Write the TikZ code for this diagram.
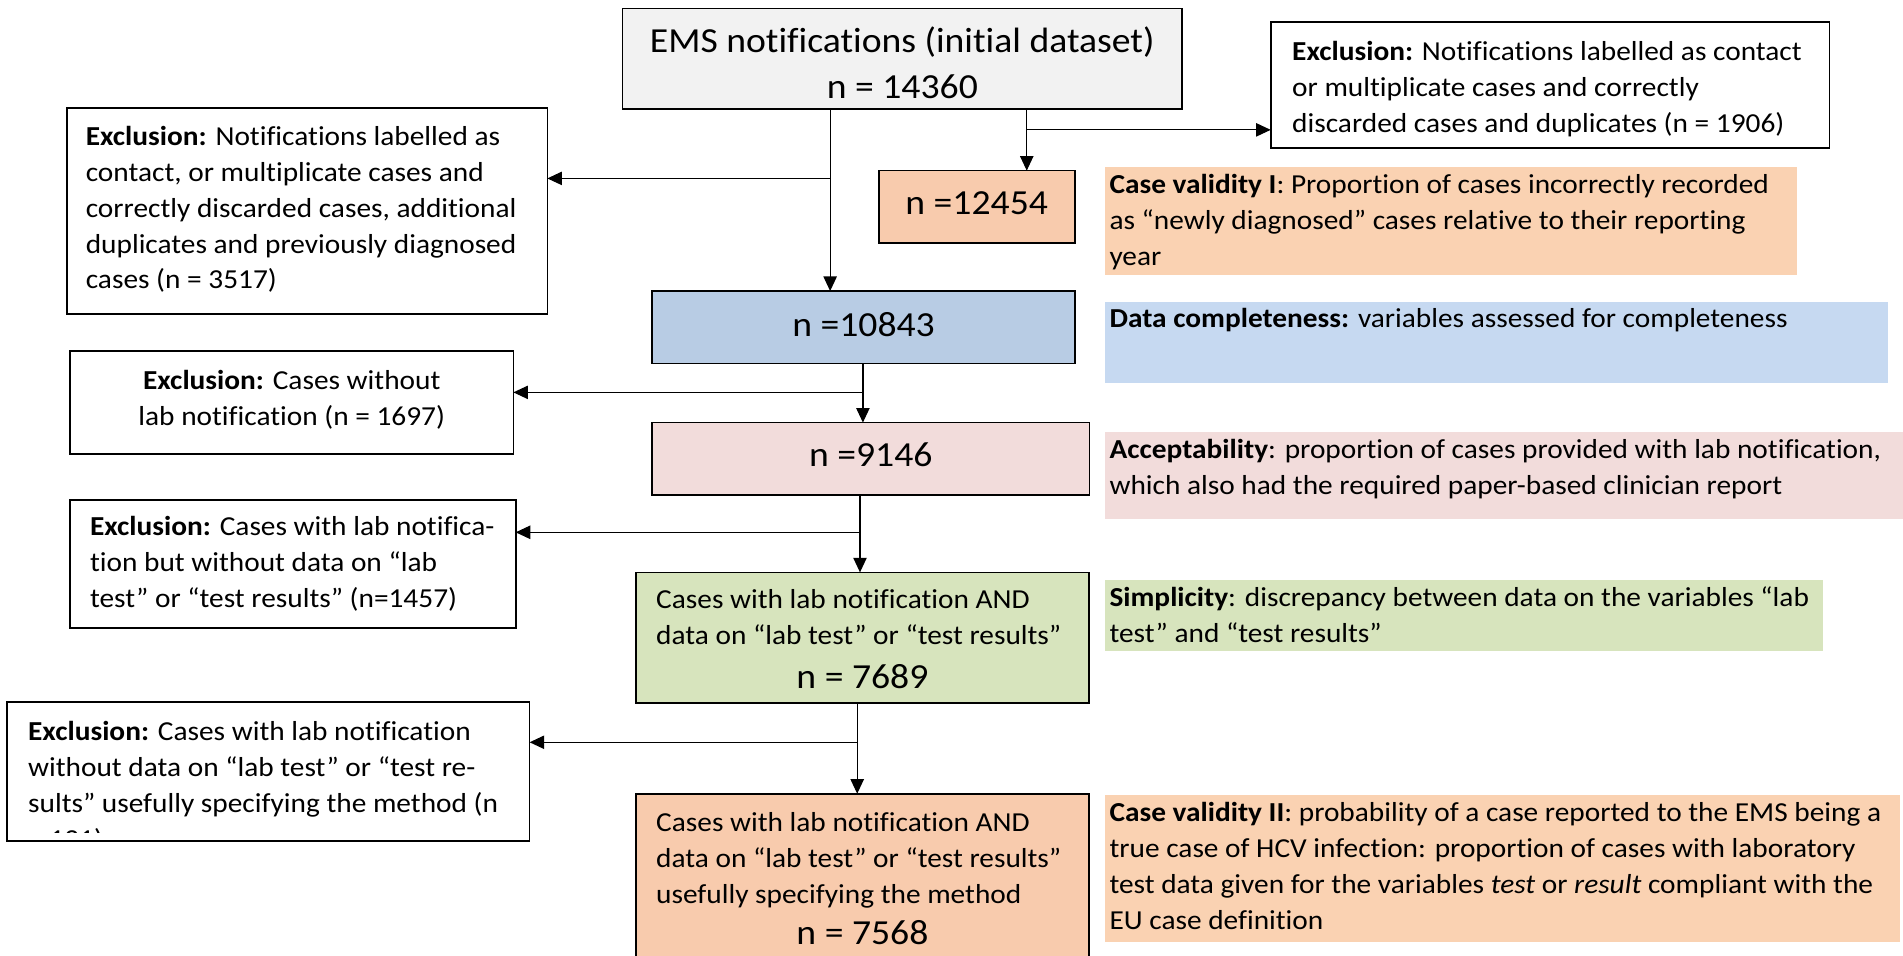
\documentclass[tikz,border=0pt]{standalone}
\usepackage{fontspec}
\setmainfont{Carlito}[FakeStretch=1.07, Ligatures=NoCommon]
\usetikzlibrary{arrows.meta}
\definecolor{cgray}{HTML}{F2F2F2}
\definecolor{corange}{HTML}{F8CBAD}
\definecolor{cpeach}{HTML}{FAD2B2}
\definecolor{cblue}{HTML}{B8CCE4}
\definecolor{cblue2}{HTML}{C6D9F1}
\definecolor{cpink}{HTML}{F2DCDB}
\definecolor{cgreen}{HTML}{D7E4BD}
\begin{document}
\begin{tikzpicture}[x=1pt,y=-1pt,
  fbox/.style={draw, line width=1.4pt, anchor=north west, inner sep=0pt, outer sep=0pt},
  band/.style={anchor=north west, inner sep=0pt, outer sep=0pt},
  tx/.style={anchor=north west, inner sep=0pt, align=left, font=\fontsize{22.6}{29.6}\selectfont},
  txc/.style={anchor=north, inner sep=0pt, align=center, font=\fontsize{22.6}{29.6}\selectfont},
  big/.style={anchor=base, inner sep=0pt, font=\fontsize{29}{38}\selectfont},
  arr/.style={line width=1pt, -{Triangle[length=12pt,width=11pt]}}
]
\useasboundingbox (0,0) rectangle (1568,787);
\clip (0,0) rectangle (1568,787);
\fill[white] (0,0) rectangle (1568,787);

\node[fbox, fill=cgray, minimum width=461pt, minimum height=83pt] (ems) at (513,7) {};
\node[txc, font=\fontsize{29}{38}\selectfont] (emst) at (743.5,16.4) {\strut EMS notifications (initial dataset)\\n = 14360};

\node[fbox, fill=white, minimum width=460.5pt, minimum height=103.3pt] (ex0) at (1047,18.4) {};
\node[tx] (ex0t) at (1064.5,28.7) {\strut\textbf{Exclusion:} Notifications labelled as contact\\or multiplicate cases and correctly\\discarded cases and duplicates (n = 1906)};

\node[fbox, fill=corange, minimum width=161.5pt, minimum height=59.4pt] (n1) at (724,140.6) {};
\node[big] (n1t) at (804.75,177) {n =12454};

\node[band, fill=cpeach, minimum width=570.7pt, minimum height=89.3pt] (cv1) at (910.3,137.3) {};
\node[tx] (cv1t) at (914,138.6) {\strut\textbf{Case validity I}: Proportion of cases incorrectly recorded\\as “newly diagnosed” cases relative to their reporting\\year};

\node[fbox, fill=white, minimum width=396pt, minimum height=170.3pt] (ex1) at (55,88.7) {};
\node[tx] (ex1t) at (70.5,98.8) {\strut\textbf{Exclusion:} Notifications labelled as\\contact, or multiplicate cases and\\correctly discarded cases, additional\\duplicates and previously diagnosed\\cases (n = 3517)};

\node[fbox, fill=cblue, minimum width=348pt, minimum height=59.6pt] (n2) at (537.5,239.8) {};
\node[big] (n2t) at (711.5,277) {n =10843};

\node[band, fill=cblue2, minimum width=645.7pt, minimum height=67.2pt] (dc) at (910.3,248.6) {};
\node[tx] (dct) at (914,249.3) {\strut\textbf{Data completeness:} variables assessed for completeness};

\node[fbox, fill=white, minimum width=365.2pt, minimum height=85.1pt] (ex2) at (57.8,289.2) {};
\node[txc] (ex2t) at (240.4,300.1) {\strut\textbf{Exclusion:} Cases without\\lab notification (n = 1697)};

\node[fbox, fill=cpink, minimum width=360.1pt, minimum height=59.7pt] (n3) at (537.5,348.2) {};
\node[big] (n3t) at (717.5,384.5) {n =9146};

\node[band, fill=cpink, minimum width=670pt, minimum height=71.7pt] (acc) at (910.3,356.2) {};
\node[tx] (acct) at (914,356.9) {\strut\textbf{Acceptability}: proportion of cases provided with lab notification,\\which also had the required paper-based clinician report};

\node[fbox, fill=white, minimum width=367.1pt, minimum height=105.7pt] (ex3) at (57.8,412) {};
\node[tx] (ex3t) at (74,420.1) {\strut\textbf{Exclusion:} Cases with lab notifica-\\tion but without data on “lab\\test” or “test results” (n=1457)};

\node[fbox, fill=cgreen, minimum width=372.8pt, minimum height=107.4pt] (g) at (524.2,471.6) {};
\node[tx] (gt) at (540.5,480.5) {\strut Cases with lab notification AND\\data on “lab test” or “test results”};
\node[big] (gn) at (710.6,567) {n = 7689};

\node[band, fill=cgreen, minimum width=592.1pt, minimum height=58.2pt] (simp) at (910.3,477.9) {};
\node[tx] (simpt) at (914,479.2) {\strut\textbf{Simplicity}: discrepancy between data on the variables “lab\\test” and “test results”};

\node[fbox, fill=white, minimum width=430.6pt, minimum height=114.3pt] (ex4) at (5.8,578.7) {};
\begin{scope}
\clip ([xshift=2pt,yshift=7pt]ex4.south west) rectangle ([xshift=-2pt,yshift=-2pt]ex4.north east);
\node[tx] (ex4t) at (23,589) {\strut\textbf{Exclusion:} Cases with lab notification\\without data on “lab test” or “test re-\\sults” usefully specifying the method (n\\= 121)};
\end{scope}

\node[fbox, fill=corange, minimum width=372.8pt, minimum height=146pt] (o2) at (524.2,654) {};
\node[tx] (o2t) at (540.5,664.5) {\strut Cases with lab notification AND\\data on “lab test” or “test results”\\usefully specifying the method};
\node[big] (o2n) at (710.6,778.6) {n = 7568};

\node[band, fill=cpeach, minimum width=655.2pt, minimum height=120.9pt] (cv2) at (910.3,655) {};
\node[tx] (cv2t) at (914,656.3) {\strut\textbf{Case validity II}: probability of a case reported to the EMS being a\\true case of HCV infection: proportion of cases with laboratory\\test data given for the variables \textit{test} or \textit{result} compliant with the\\EU case definition};

\coordinate (b1) at (684,147);
\draw[arr] (ems.south -| b1) -- (b1 |- n2.north);
\draw[arr] (b1) -- (b1 -| ex1.east);
\coordinate (b2) at (846,107);
\draw[arr] (ems.south -| b2) -- (b2 |- n1.north);
\draw[arr] (b2) -- (b2 -| ex0.west);
\coordinate (b3) at (711,323.3);
\draw[arr] (n2.south -| b3) -- (b3 |- n3.north);
\draw[arr] (b3) -- (b3 -| ex2.east);
\coordinate (b4) at (708.6,438.6);
\draw[arr] (n3.south -| b4) -- (b4 |- g.north);
\draw[arr] (b4) -- (b4 -| ex3.east);
\coordinate (b5) at (706.3,611.6);
\draw[arr] (g.south -| b5) -- (b5 |- o2.north);
\draw[arr] (b5) -- (b5 -| ex4.east);
\end{tikzpicture}
\end{document}
